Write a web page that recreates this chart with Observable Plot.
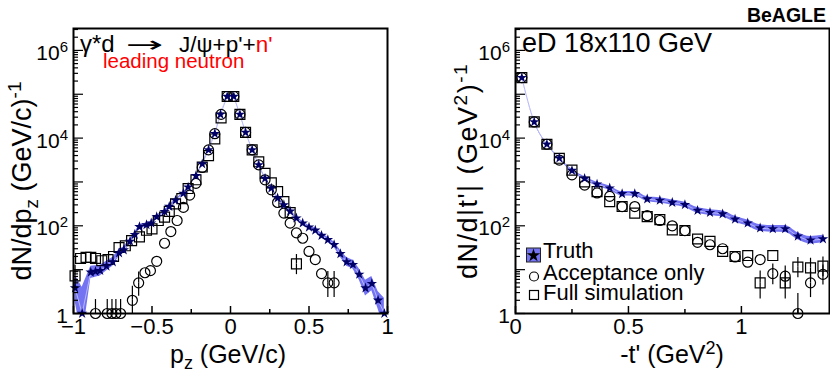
<!DOCTYPE html>
<html><head><meta charset="utf-8">
<script src="https://cdn.jsdelivr.net/npm/d3@7"></script>
<script src="https://cdn.jsdelivr.net/npm/@observablehq/plot@0.6"></script>
<style>
html,body{margin:0;padding:0;background:#fff;}
#wrap{position:relative;width:830px;height:375px;overflow:hidden;background:#fff;}
#wrap svg{position:absolute;top:0;overflow:visible;max-width:none;}
</style></head>
<body><div id="wrap"></div>
<script>
const FONT = '"Liberation Sans", Arial, Helvetica, sans-serif';

// ---------- Left panel: dN/dp_z ----------
const pzTruthX = [-0.99,-0.945,-0.89,-0.86,-0.83,-0.79,-0.75,-0.71,-0.68,-0.64,-0.61,-0.58,-0.535,-0.505,-0.47,-0.42,-0.39,-0.35,-0.30,-0.27,-0.22,-0.18,-0.14,-0.10,-0.064,-0.021,
  0.021,0.06,0.096,0.138,0.18,0.22,0.26,0.30,0.34,0.38,0.42,0.46,0.50,0.54,0.58,0.62,0.66,0.70,0.74,0.78,0.82,0.86,0.90,0.94,0.98];
const pzTruthVal = [3.8,1,8.7,9.1,9.5,12,15,24,28,44,63,95,105,115,160,210,275,380,550,760,1380,2570,5400,12600,34700,89000,
  89000,34700,13500,5400,2450,1200,720,430,300,214,150,115,93,79,60,48,37,23,15,13,7.8,3.8,4.8,2,1];
const pzTruthErrLog = [0.3,0.6,0.14,0.13,0.12,0.11,0.1,0.08,0.07,0.06,0.05,0.05,0.04,0.04,0.035,0.03,0.03,0.025,0.02,0.02,0.015,0.01,0.01,0.005,0.005,0.003,
  0.003,0.005,0.005,0.01,0.01,0.015,0.02,0.025,0.03,0.03,0.035,0.04,0.04,0.045,0.05,0.055,0.06,0.08,0.1,0.1,0.13,0.18,0.16,0.2,0.35];

const pzAccX = [-0.86,-0.785,-0.755,-0.73,-0.70,-0.625,-0.585,-0.545,-0.51,-0.47,-0.42,-0.38,-0.34,-0.30,-0.26,-0.22,-0.18,-0.14,-0.10,-0.06,-0.021,
  0.021,0.06,0.096,0.138,0.18,0.22,0.26,0.30,0.34,0.38,0.42,0.46,0.50,0.54,0.58,0.62,0.66];
const pzAccVal = [1,1,1,1,1,2,5,8.5,9.5,15.5,40,74,132,263,500,930,2140,5400,12600,34700,89000,
  89000,34700,13500,5400,2450,1120,660,340,195,115,69,52,26,17,8.1,5,5];
const pzAccErr = [0.6,0.6,0.6,0.6,0.6,1.2,1.8,0,0,0,0,0,0,0,0,0,0,0,0,0,0,
  0,0,0,0,0,0,0,0,0,0,0,0,0,0,0,2,2];

const pzSimX = [-0.99,-0.955,-0.92,-0.89,-0.86,-0.82,-0.78,-0.745,-0.71,-0.67,-0.63,-0.58,-0.535,-0.50,-0.46,-0.42,-0.39,-0.35,-0.31,-0.27,-0.22,-0.18,-0.14,-0.10,-0.06,-0.021,
  0.021,0.06,0.096,0.138,0.18,0.22,0.26,0.30,0.34,0.38,0.42];
const pzSimVal = [7.2,18,19,19,18,16,17,20,32,35,46,56,79,85,132,158,214,316,417,708,1120,2190,3980,9550,28800,89000,
  89000,34700,13500,5400,2880,1580,955,603,355,200,13.5];
const pzSimErr = [2.5,0,0,0,0,0,0,0,0,0,0,0,0,0,0,0,0,0,0,0,0,0,0,0,0,0,
  0,0,0,0,0,0,0,0,0,0,3.5];

// ---------- Right panel: dN/d|t'| ----------
const tBins = [0.028,0.083,0.139,0.194,0.25,0.306,0.361,0.417,0.472,0.528,0.583,0.639,0.694,0.75,0.806,0.861,0.917,0.972,1.028,1.083,1.139,1.194,1.25,1.306,1.361];
const tTruthVal = [240000,23400,7240,3470,1820,1200,891,724,537,537,407,380,339,302,224,200,186,141,115,89,85,85,58,47,50];
const tTruthErrLog = [0.004,0.008,0.012,0.02,0.03,0.04,0.045,0.05,0.05,0.055,0.055,0.06,0.06,0.06,0.065,0.065,0.07,0.07,0.07,0.075,0.075,0.08,0.08,0.085,0.085];
const tAccVal = [240000,23400,7240,3160,1450,851,562,468,275,275,170,132,100,78,42,37,30,19.5,14.8,17,8.1,7.1,1,5,7.8];
const tAccErr = [0,0,0,0,0,0,0,0,0,0,0,0,0,0,0,0,0,0,0,0,2.2,2.2,1.2,2,2];
const tSimVal = [240000,23400,7240,3470,1860,1000,603,355,275,195,162,138,81,78,50,44,26,20,21,5,21,5,11.5,11,12];
const tSimErr = [0,0,0,0,0,0,0,0,0,0,0,0,0,0,0,0,0,0,0,2.2,0,2.2,3,3,3];

const BAND = "#5c5cf0";
const STAR = "#000066";

function makePanel(o) {
  const truth = o.tx.map((x, i) => ({x, v: o.tv[i], lo: o.tv[i] / Math.pow(10, o.te[i]), hi: o.tv[i] * Math.pow(10, o.te[i])}));
  const acc = o.ax.map((x, i) => ({x, v: o.av[i], e: o.ae[i]}));
  const sim = o.sx.map((x, i) => ({x, v: o.sv[i], e: o.se[i]}));
  const up = arr => arr.filter(d => d.e > 0).map(d => ({x: d.x, y1: d.v, y2: d.v + d.e}));
  const dn = arr => arr.filter(d => d.e > 0).map(d => ({x: d.x, y1: Math.max(d.v - d.e, 0.3), y2: d.v}));
  const yMaj = [1, 10, 100, 1e3, 1e4, 1e5, 1e6];
  const yMin = [];
  for (let k = 0; k <= 6; k++) for (let m = 2; m <= 9; m++) { const v = m * Math.pow(10, k); if (v < 3.1e6) yMin.push(v); }
  const fmt = d => d < 0 ? "\u2212" + Math.abs(d) : String(d);
  const svg = Plot.plot({
    width: o.width, height: 375,
    marginLeft: o.ml, marginRight: o.mr, marginTop: 28, marginBottom: 62,
    x: {domain: o.xDomain, label: null},
    y: {type: "log", domain: [1, 3.16e6], label: null},
    style: {fontFamily: FONT, fontSize: "22px", color: "black", background: "transparent", overflow: "visible"},
    marks: [
      Plot.areaY(truth, {x: "x", y1: "lo", y2: "hi", fill: BAND, fillOpacity: 0.85, curve: o.curve, clip: true}),
      Plot.line(truth, {x: "x", y: "v", stroke: "#b8b8ff", strokeWidth: 1, curve: o.curve, clip: true}),
      Plot.ruleX(up(acc), {x: "x", y1: "y1", y2: "y2", stroke: "black", strokeWidth: 1.2, insetBottom: 5, clip: true}),
      Plot.ruleX(dn(acc), {x: "x", y1: "y1", y2: "y2", stroke: "black", strokeWidth: 1.2, insetTop: 5, clip: true}),
      Plot.ruleX(up(sim), {x: "x", y1: "y1", y2: "y2", stroke: "black", strokeWidth: 1.2, insetBottom: 5, clip: true}),
      Plot.ruleX(dn(sim), {x: "x", y1: "y1", y2: "y2", stroke: "black", strokeWidth: 1.2, insetTop: 5, clip: true}),
      Plot.dot(acc, {x: "x", y: "v", symbol: "circle", r: 5, stroke: "black", strokeWidth: 1.2, fill: "none"}),
      Plot.dot(sim, {x: "x", y: "v", symbol: "square", r: 5.6, stroke: "black", strokeWidth: 1.2, fill: "none"}),
      Plot.dot(truth, {x: "x", y: "v", symbol: "star", r: 3.3, fill: STAR, stroke: "none"}),
      Plot.axisX({ticks: o.xMaj, tickSize: -7, text: null, label: null, strokeWidth: 1.5}),
      Plot.axisX({ticks: o.xMin, tickSize: -4, text: null, label: null, strokeWidth: 1.5}),
      Plot.axisX({ticks: o.xMaj, tickSize: 0, tickPadding: 5, tickFormat: fmt, fontSize: 22, label: null}),
      Plot.axisY({ticks: yMaj, tickSize: -10, text: null, label: null, strokeWidth: 1.2}),
      Plot.axisY({ticks: yMin, tickSize: -5, text: null, label: null, strokeWidth: 1.2}),
      Plot.frame({stroke: "black", strokeWidth: 2})
    ]
  });
  // y tick labels with superscripts, placed via the plot's own y scale
  const sy = svg.scale("y");
  const g = d3.select(svg).append("g").attr("font-family", FONT).attr("fill", "black");
  for (const [v, n] of [[1, null], [1e2, "2"], [1e4, "4"], [1e6, "6"]]) {
    const t = g.append("text").attr("x", o.ml - 5).attr("y", sy.apply(v) + 10)
      .attr("text-anchor", "end").attr("font-size", 21);
    if (n === null) { t.text("1"); continue; }
    t.append("tspan").text("10");
    t.append("tspan").attr("dy", -8).attr("font-size", 15).text(n);
  }
  svg.style.left = o.left + "px";
  return svg;
}

const wrap = document.getElementById("wrap");
wrap.appendChild(makePanel({
  left: 0, width: 415, ml: 73, mr: 28, xDomain: [-1, 1],
  xMaj: [-1, -0.5, 0, 0.5, 1], xMin: [-0.75, -0.25, 0.25, 0.75],
  tx: pzTruthX, tv: pzTruthVal, te: pzTruthErrLog,
  ax: pzAccX, av: pzAccVal, ae: pzAccErr,
  sx: pzSimX, sv: pzSimVal, se: pzSimErr, curve: "linear"
}));
wrap.appendChild(makePanel({
  left: 415, width: 415, ml: 100, mr: 1, xDomain: [0, 1.39],
  xMaj: [0, 0.5, 1], xMin: [0.25, 0.75, 1.25],
  tx: tBins, tv: tTruthVal, te: tTruthErrLog,
  ax: tBins, av: tAccVal, ae: tAccErr,
  sx: tBins, sv: tSimVal, se: tSimErr, curve: "monotone-x"
}));

// ---------- annotations overlay ----------
const ov = d3.select(wrap).append("svg").attr("width", 830).attr("height", 375)
  .style("left", "0px").style("pointer-events", "none")
  .attr("font-family", FONT).attr("fill", "black");

// left x title
let t = ov.append("text").attr("x", 228).attr("y", 363).attr("text-anchor", "middle").attr("font-size", 25);
t.append("tspan").text("p");
t.append("tspan").attr("dy", 6).attr("font-size", 18).text("z");
t.append("tspan").attr("dy", -6).text(" (GeV/c)");
// right x title
t = ov.append("text").attr("x", 672).attr("y", 363).attr("text-anchor", "middle").attr("font-size", 25);
t.append("tspan").text("-t' (GeV");
t.append("tspan").attr("dy", -9).attr("font-size", 18).text("2");
t.append("tspan").attr("dy", 9).text(")");
// left y title
t = ov.append("text").attr("transform", "translate(31,181) rotate(-90)").attr("text-anchor", "middle").attr("font-size", 27);
t.append("tspan").text("dN/dp");
t.append("tspan").attr("dy", 7).attr("font-size", 19).text("z");
t.append("tspan").attr("dy", -7).text(" (GeV/c)");
t.append("tspan").attr("dy", -10).attr("font-size", 19).text("-1");
// right y title
t = ov.append("text").attr("transform", "translate(477,171) rotate(-90)").attr("text-anchor", "middle")
  .attr("font-size", 27).attr("letter-spacing", 1.5);
t.append("tspan").text("dN/d|t'| (GeV");
t.append("tspan").attr("dy", -10).attr("font-size", 19).text("2");
t.append("tspan").attr("dy", 10).text(")");
t.append("tspan").attr("dy", -10).attr("font-size", 19).text("-1");

// reaction label
ov.append("text").attr("x", 80).attr("y", 52).attr("font-size", 24).text("\u03b3*d");
ov.append("text").attr("transform", "translate(126,52) scale(2.05,1)")
  .attr("font-family", '"DejaVu Sans", sans-serif').attr("font-size", 22).text("\u2192");
t = ov.append("text").attr("x", 179).attr("y", 52).attr("font-size", 22.5);
t.append("tspan").text("J/\u03c8+p'+");
t.append("tspan").attr("fill", "#ff0000").text("n'");
ov.append("text").attr("x", 103).attr("y", 68).attr("font-size", 20.5).attr("fill", "#ff0000").text("leading neutron");

// right labels
ov.append("text").attr("x", 522).attr("y", 52).attr("font-size", 27).text("eD 18x110 GeV");
ov.append("text").attr("x", 826).attr("y", 22).attr("font-size", 19.5).attr("font-weight", "bold").attr("text-anchor", "end").text("BeAGLE");

// legend
const lg = ov.append("g");
lg.append("rect").attr("x", 526.5).attr("y", 248).attr("width", 14).attr("height", 14).attr("fill", BAND).attr("fill-opacity", 0.85).attr("stroke", "#222").attr("stroke-width", 1);
lg.append("path").attr("d", d3.symbol(d3.symbolStar, 55)()).attr("transform", "translate(533.5,255.5)").attr("fill", "black");
lg.append("text").attr("x", 543).attr("y", 258).attr("font-size", 22).text("Truth");
lg.append("circle").attr("cx", 534).attr("cy", 276.5).attr("r", 4.5).attr("fill", "none").attr("stroke", "black").attr("stroke-width", 1.2);
lg.append("text").attr("x", 543).attr("y", 280).attr("font-size", 22).text("Acceptance only");
lg.append("rect").attr("x", 529.5).attr("y", 290.5).attr("width", 9).attr("height", 9).attr("fill", "none").attr("stroke", "black").attr("stroke-width", 1.2);
lg.append("text").attr("x", 543).attr("y", 300).attr("font-size", 22).text("Full simulation");
</script>
</body></html>
